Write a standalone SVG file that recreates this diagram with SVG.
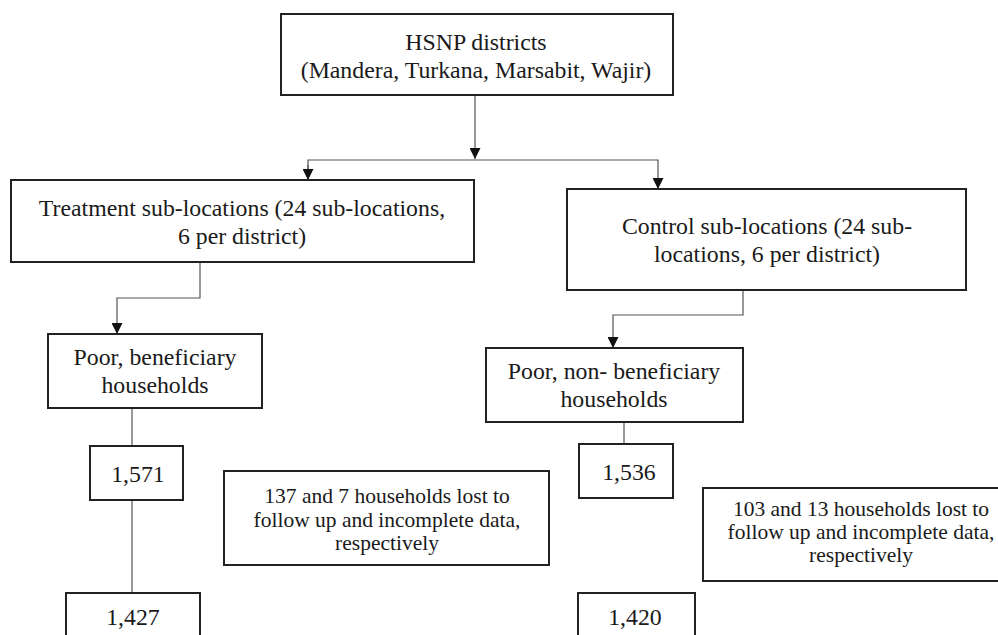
<svg xmlns="http://www.w3.org/2000/svg" width="998" height="635" viewBox="0 0 998 635">
<style>
.box{fill:#fff;stroke:#222;stroke-width:2}
.t{font-family:"Liberation Serif","Times New Roman",serif;font-size:23.8px;fill:#1a1a1a;text-anchor:middle}
.s{font-family:"Liberation Serif","Times New Roman",serif;font-size:21.5px;fill:#1a1a1a;text-anchor:middle}
.c{fill:none;stroke:#555;stroke-width:1.2}
</style>
<defs>
<marker id="ah" viewBox="0 0 10 10" refX="10" refY="5" markerWidth="11" markerHeight="11" markerUnits="userSpaceOnUse" orient="auto">
<path d="M0,0 L10,5 L0,10 Z" fill="#111"/>
</marker>
</defs>
<rect width="998" height="635" fill="#fff"/>
<g id="connectors">
<line class="c" x1="475" y1="95" x2="475" y2="159" marker-end="url(#ah)"/>
<polyline class="c" points="308,180 308,160 658,160 658,189" marker-end="url(#ah)"/>
<line class="c" x1="308" y1="165" x2="308" y2="180" marker-end="url(#ah)"/>
<polyline class="c" points="200,262 200,298 117,298 117,334" marker-end="url(#ah)"/>
<polyline class="c" points="743,290 743,315 613,315 613,348" marker-end="url(#ah)"/>
<line class="c" x1="132" y1="408" x2="132" y2="446"/>
<line class="c" x1="132" y1="500" x2="132" y2="593"/>
<line class="c" x1="624" y1="422" x2="624" y2="444"/>
</g>
<g id="hsnp">
<rect class="box" x="281" y="14" width="392" height="81"/>
<text class="t" x="476" y="50">HSNP districts</text>
<text class="t" x="476" y="78">(Mandera, Turkana, Marsabit, Wajir)</text>
</g>
<g id="treatment">
<rect class="box" x="11" y="180" width="463" height="82"/>
<text class="t" x="242" y="216">Treatment sub-locations (24 sub-locations,</text>
<text class="t" x="242" y="244">6 per district)</text>
</g>
<g id="control">
<rect class="box" x="567" y="189" width="399" height="101"/>
<text class="t" x="767" y="234">Control sub-locations (24 sub-</text>
<text class="t" x="767" y="262">locations, 6 per district)</text>
</g>
<g id="poor-ben">
<rect class="box" x="48" y="334" width="214" height="74"/>
<text class="t" x="155" y="365">Poor, beneficiary</text>
<text class="t" x="155" y="393">households</text>
</g>
<g id="poor-nonben">
<rect class="box" x="486" y="348" width="257" height="74"/>
<text class="t" x="614" y="379">Poor, non- beneficiary</text>
<text class="t" x="614" y="407">households</text>
</g>
<g id="n1571">
<rect class="box" x="90" y="446" width="93" height="54"/>
<text class="t" x="138" y="482">1,571</text>
</g>
<g id="n1536">
<rect class="box" x="579" y="444" width="94" height="54"/>
<text class="t" x="629" y="480">1,536</text>
</g>
<g id="lost-t">
<rect class="box" x="224" y="471" width="325" height="94"/>
<text class="s" x="387" y="503">137 and 7 households lost to</text>
<text class="s" x="387" y="527">follow up and incomplete data,</text>
<text class="s" x="387" y="550">respectively</text>
</g>
<g id="lost-c">
<rect class="box" x="703" y="488" width="310" height="93"/>
<text class="s" x="861" y="516">103 and 13 households lost to</text>
<text class="s" x="861" y="539">follow up and incomplete data,</text>
<text class="s" x="861" y="562">respectively</text>
</g>
<g id="n1427">
<rect class="box" x="66" y="593" width="134" height="60"/>
<text class="t" x="133" y="625">1,427</text>
</g>
<g id="n1420">
<rect class="box" x="578" y="593" width="117" height="60"/>
<text class="t" x="635" y="625">1,420</text>
</g>
</svg>
